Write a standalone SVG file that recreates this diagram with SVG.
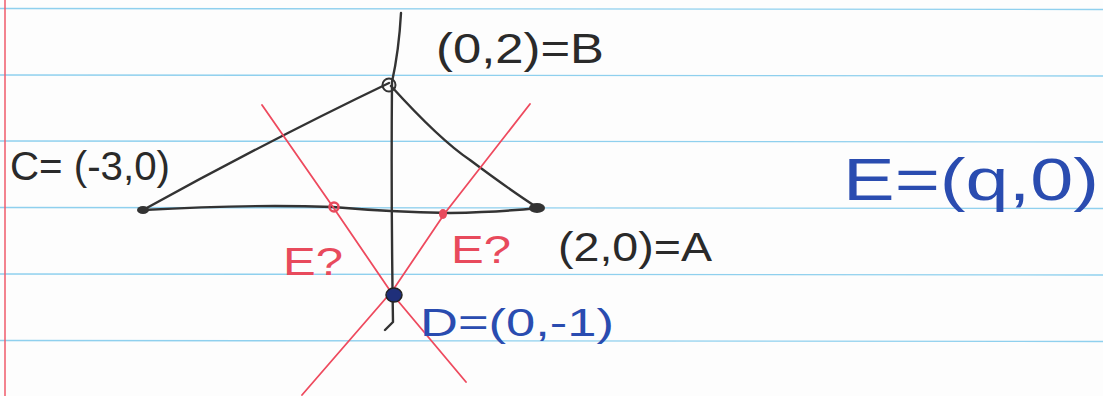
<svg xmlns="http://www.w3.org/2000/svg" width="1103" height="396" viewBox="0 0 1103 396">
<style>
.rule{stroke:#8fd0ee;stroke-width:1.3}
.ink{fill:none;stroke:#333;stroke-width:2.4;stroke-linecap:round;stroke-linejoin:round}
.red{fill:none;stroke:#ee4a5e;stroke-width:1.8;stroke-linecap:round}
.t{font-family:"Liberation Sans",Arial,sans-serif;font-weight:normal}
.blk{fill:#2a2a2a}
.rt{fill:#e84a5c}
.bt{fill:#2a4cb0}
</style>
<rect width="1103" height="396" fill="#fdfdfd"/>
<g id="paper">
<line class="rule" x1="0" y1="8.5" x2="1103" y2="9.5"/>
<line class="rule" x1="0" y1="75" x2="1103" y2="76"/>
<line class="rule" x1="0" y1="141" x2="1103" y2="142"/>
<line class="rule" x1="0" y1="207.5" x2="1103" y2="208.5"/>
<line class="rule" x1="0" y1="274" x2="1103" y2="275"/>
<line class="rule" x1="0" y1="340.5" x2="1103" y2="341.5"/>
<line x1="5" y1="0" x2="5" y2="396" stroke="#ef5a6a" stroke-width="1.5"/>
</g>
<g id="connectors">
<path class="ink" d="M401 13 Q399 50 392 82 Q391 200 393 322 L385 330"/>
<path class="ink" d="M143 210 Q270 140 389 83"/>
<path class="ink" d="M391 86 Q440 140 470 160 Q510 190 538 208"/>
<path class="ink" d="M143 210 Q250 204 333 207 Q390 212 450 213 Q500 212 538 208"/>
<path class="red" d="M262 105 L333 207 L393 295 L466 382"/>
<path class="red" d="M530 104 L445 213 L393 290 L302 395"/>
</g>
<g id="B"><circle cx="389" cy="85" r="6.5" fill="none" stroke="#333" stroke-width="2"/></g>
<g id="C"><ellipse cx="143" cy="210" rx="6" ry="4" fill="#333"/></g>
<g id="A"><ellipse cx="537" cy="208" rx="8" ry="5" fill="#333"/></g>
<g id="D"><ellipse cx="394" cy="295" rx="8" ry="7" fill="#1f2f7a" stroke="#222" stroke-width="1.5"/></g>
<g id="E1"><circle cx="334" cy="207" r="4.5" fill="none" stroke="#e84a5c" stroke-width="2.5"/></g>
<g id="E2"><ellipse cx="443" cy="214" rx="4" ry="5" fill="#e84a5c"/></g>
<g id="labels">
<text class="t blk" x="436" y="63" font-size="42" textLength="168" lengthAdjust="spacingAndGlyphs">(0,2)=B</text>
<text class="t blk" x="10" y="180" font-size="40" textLength="160" lengthAdjust="spacingAndGlyphs">C= (-3,0)</text>
<text class="t rt" x="283" y="275" font-size="38" textLength="60" lengthAdjust="spacingAndGlyphs">E?</text>
<text class="t rt" x="451" y="263" font-size="38" textLength="60" lengthAdjust="spacingAndGlyphs">E?</text>
<text class="t blk" x="558" y="261" font-size="40" textLength="154" lengthAdjust="spacingAndGlyphs">(2,0)=A</text>
<text class="t bt" x="420" y="336" font-size="38" textLength="194" lengthAdjust="spacingAndGlyphs">D=(0,-1)</text>
<text class="t bt" x="843" y="200" font-size="60" textLength="256" lengthAdjust="spacingAndGlyphs">E=(q,0)</text>
</g>
</svg>
